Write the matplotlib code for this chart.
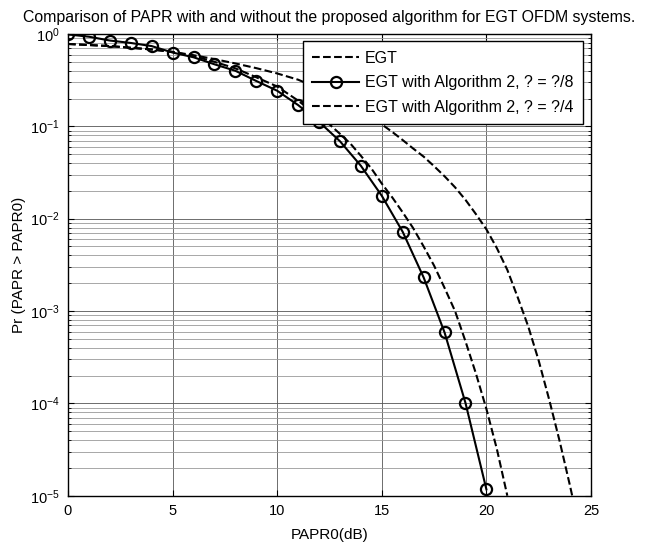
import numpy as np
import matplotlib
matplotlib.use("Agg")
import matplotlib.pyplot as plt

plt.rcParams["font.family"] = ["Liberation Sans", "DejaVu Sans"]
plt.rcParams["axes.unicode_minus"] = False

# PAPR0 (dB) and CCDF values
x_alg8 = [0, 1, 2, 3, 4, 5, 6, 7, 8, 9, 10, 11, 12, 13, 14, 15, 16, 17, 18, 19, 20]
p_alg8 = [0.99, 0.935, 0.85, 0.80, 0.74, 0.63, 0.56, 0.47, 0.40, 0.31, 0.243,
          0.17, 0.112, 0.069, 0.0374, 0.0177, 0.0072, 0.00231, 5.86e-4, 1.01e-4, 1.17e-5]

x_egt = [0, 1, 2, 3, 4, 5, 6, 7, 8, 9, 10, 11, 12, 12.5, 13, 13.5, 14, 14.5, 15,
         15.5, 16, 16.5, 17, 17.5, 18, 18.5, 19, 19.5, 20, 20.5, 21]
p_egt = [0.78, 0.76, 0.74, 0.71, 0.68, 0.64, 0.578, 0.50, 0.425, 0.34, 0.27,
         0.19, 0.126, 0.105, 0.083, 0.065, 0.048, 0.035, 0.024, 0.017, 0.0117,
         0.0079, 0.005, 0.0031, 0.00178, 0.001, 4.7e-4, 2.1e-4, 8.7e-5, 3.2e-5, 1e-5]

x_alg4 = [0, 1, 2, 3, 4, 5, 6, 7, 8, 9, 10, 11, 12, 13, 14, 15, 15.5, 16, 16.5,
          17, 17.5, 18, 18.5, 19, 19.5, 20, 20.5, 21, 21.5, 22, 22.5, 23, 23.5,
          24, 24.1]
p_alg4 = [0.78, 0.76, 0.74, 0.71, 0.68, 0.64, 0.59, 0.535, 0.48, 0.427, 0.374,
          0.32, 0.257, 0.20, 0.148, 0.105, 0.087, 0.071, 0.0575, 0.047, 0.037,
          0.0288, 0.0219, 0.016, 0.0112, 0.00767, 0.0048, 0.00279, 0.0014,
          6.8e-4, 2.9e-4, 1.1e-4, 3.9e-5, 1.27e-5, 1e-5]

labels = ["EGT", "EGT with Algorithm 2, ? = ?/8", "EGT with Algorithm 2, ? = ?/4"]

fig = plt.figure(figsize=(6.45, 5.46), dpi=100)
ax = fig.add_axes([0.1054, 0.0921, 0.8109, 0.8456])

ax.semilogy(x_egt, p_egt, "k--", lw=1.5, label=labels[0])
ax.semilogy(x_alg8, p_alg8, "k-", lw=1.5, marker="o", ms=8, mfc="none",
            mew=1.6, label=labels[1])
ax.semilogy(x_alg4, p_alg4, "k--", lw=1.5, label=labels[2])

ax.set_xlim(0, 25)
ax.set_ylim(1e-5, 1)
ax.set_xticks([0, 5, 10, 15, 20, 25])
ax.grid(True, which="major", color="#555555", lw=0.6)
ax.grid(True, which="minor", axis="y", color="#999999", lw=0.6)
ax.tick_params(which="both", direction="in", top=True, right=True, labelsize=10.5)
ax.tick_params(which="major", length=4, pad=6)
ax.tick_params(which="minor", length=2.5)
for s in ax.spines.values():
    s.set_linewidth(1.0)

ax.set_xlabel("PAPR0(dB)", fontsize=11, labelpad=7)
ax.set_ylabel("Pr (PAPR > PAPR0)", fontsize=11, labelpad=3)
ax.set_title("Comparison of PAPR with and without the proposed algorithm for EGT OFDM systems.",
             fontsize=11.4, pad=9)

leg = ax.legend(loc="upper right", bbox_to_anchor=(0.985, 0.985), borderaxespad=0,
                fancybox=False, edgecolor="black", framealpha=1, fontsize=11.5,
                handlelength=2.9, handletextpad=0.4, labelspacing=0.6,
                borderpad=0.6)
leg.get_frame().set_linewidth(1.0)

fig.savefig("out.png", dpi=100)
